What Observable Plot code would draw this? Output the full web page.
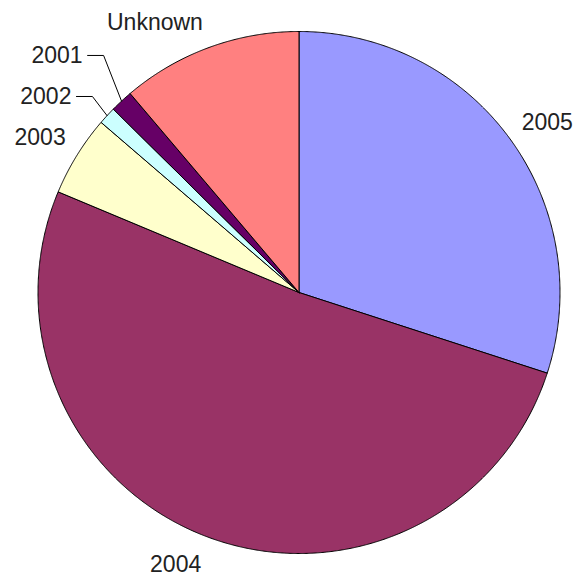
<!DOCTYPE html>
<html>
<head>
<meta charset="utf-8">
<script src="https://cdn.jsdelivr.net/npm/d3@7"></script>
<script src="https://cdn.jsdelivr.net/npm/@observablehq/plot@0.6"></script>
<style>
  html, body { margin: 0; padding: 0; background: #ffffff; }
  #chart svg { display: block; background: #ffffff; }
</style>
</head>
<body>
<div id="chart"></div>
<script>
// Data (percent shares), clockwise from 12 o'clock
const categories = ["2005", "2004", "2003", "2002", "2001", "Unknown"];
const values = [30.0, 51.3, 5.0, 1.1, 1.4, 11.2];

// Styles
const colors = ["#9999FF", "#993366", "#FFFFCC", "#CCFFFF", "#660066", "#FF8080"];

// Label layout (angle in degrees clockwise from top, radius as fraction of pie radius)
const labelLayout = {
  "2005":    {angle: 55.6,  r: 1.153, leader: false},
  "2004":    {angle: 204.4, r: 1.144, leader: false},
  "2003":    {angle: 300.9, r: 1.156, leader: false},
  "2002":    {angle: 313.5, r: 1.091, leader: true},
  "2001":    {angle: 320.5, r: 1.177, leader: true},
  "Unknown": {angle: 331.9, r: 1.172, leader: false}
};

const total = d3.sum(values);
const rad = (deg) => deg * Math.PI / 180;
const polar = (deg, r) => ({x: r * Math.sin(rad(deg)), y: r * Math.cos(rad(deg))});

// Build slices
let acc = 0;
const slices = categories.map((cat, i) => {
  const start = acc / total * 360;
  acc += values[i];
  const end = acc / total * 360;
  return {cat, start, end, mid: (start + end) / 2, color: colors[i]};
});

function slicePoints(s) {
  const pts = [{x: 0, y: 0}];
  const n = Math.max(2, Math.ceil((s.end - s.start) / 0.25));
  for (let k = 0; k <= n; k++) {
    const a = s.start + (s.end - s.start) * k / n;
    pts.push(polar(a, 1));
  }
  pts.push({x: 0, y: 0});
  return pts;
}

const unitPx = 261; // pixels per unit radius (used for small text gaps)
const centerLabels = [];
const endLabels = [];
const leaders = [];
for (const s of slices) {
  const L = labelLayout[s.cat];
  const p = polar(L.angle, L.r);
  if (L.leader) {
    const a = polar(s.mid, 1);
    const hx = p.x - 16 / unitPx;
    leaders.push({cat: s.cat, x: a.x, y: a.y});
    leaders.push({cat: s.cat, x: p.x, y: p.y});
    leaders.push({cat: s.cat, x: hx, y: p.y});
    endLabels.push({text: s.cat, x: hx - 5 / unitPx, y: p.y});
  } else {
    centerLabels.push({text: s.cat, x: p.x, y: p.y});
  }
}

const font = "Liberation Sans, Arial, sans-serif";

const chart = Plot.plot({
  width: 574,
  height: 579,
  marginLeft: 37.5,
  marginRight: 14.5,
  marginTop: 31,
  marginBottom: 26,
  x: {domain: [-1, 1], axis: null},
  y: {domain: [-1, 1], axis: null},
  style: {background: "#ffffff"},
  marks: [
    ...slices.map(s => Plot.line(slicePoints(s), {
      x: "x", y: "y", fill: s.color, stroke: "#000000", strokeWidth: 1,
      strokeLinejoin: "miter", curve: "linear"
    })),
    Plot.line(leaders, {x: "x", y: "y", z: "cat", stroke: "#000000", strokeWidth: 1, strokeLinejoin: "miter"}),
    Plot.text(centerLabels, {x: "x", y: "y", text: "text", textAnchor: "middle",
      fontSize: 23, fontFamily: font, fill: "#222222"}),
    Plot.text(endLabels, {x: "x", y: "y", text: "text", textAnchor: "end",
      fontSize: 23, fontFamily: font, fill: "#222222"})
  ]
});

document.getElementById("chart").appendChild(chart);
</script>
</body>
</html>
